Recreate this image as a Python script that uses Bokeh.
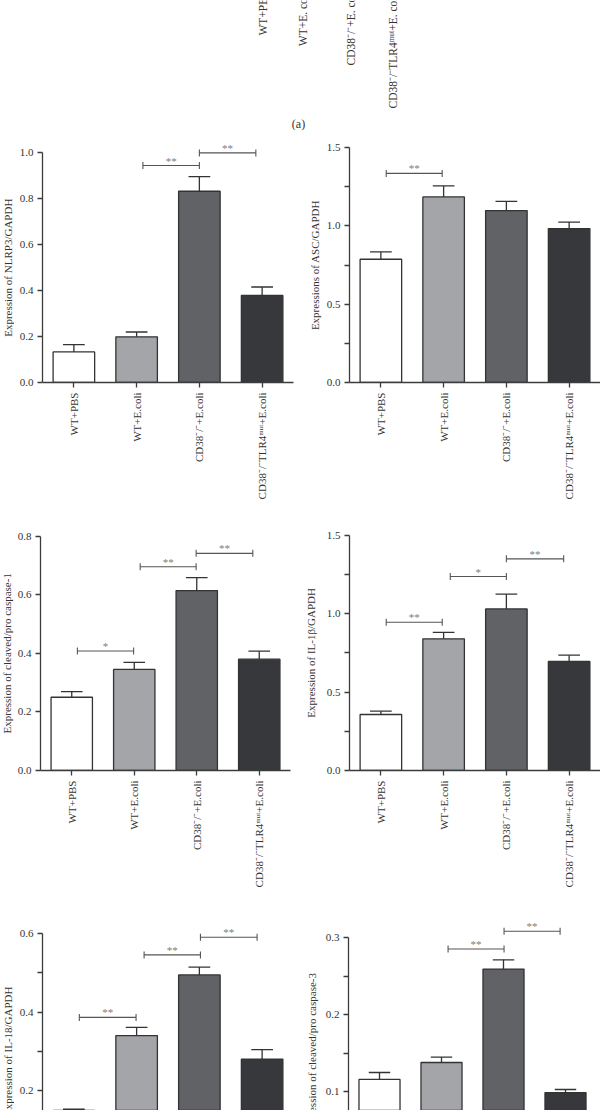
import numpy as np
from bokeh.plotting import figure
from bokeh.layouts import column, row
from bokeh.models import Range1d, FixedTicker, NumeralTickFormatter, Label, ColumnDataSource
from bokeh.core.properties import value
from bokeh.embed import file_html
from bokeh.resources import INLINE

# ---------------- data ----------------
groups = ["WT+PBS", "WT+E.coli", "CD38\u207b/\u207b+E.coli",
          "CD38\u207b/\u207bTLR4\u1d50\u1d58\u1d57+E.coli"]
blot_labels = ["WT+PBS", "WT+E. coli", "CD38\u207b/\u207b+E. coli",
               "CD38\u207b/\u207bTLR4\u1d50\u1d58\u1d57+E. coli"]

nlrp3_mean = [0.133, 0.199, 0.833, 0.379]
nlrp3_sem = [0.032, 0.021, 0.064, 0.037]
asc_mean = [0.787, 1.185, 1.098, 0.983]
asc_sem = [0.047, 0.070, 0.058, 0.041]
casp1_mean = [0.250, 0.345, 0.614, 0.380]
casp1_sem = [0.019, 0.024, 0.044, 0.027]
il1b_mean = [0.357, 0.839, 1.030, 0.695]
il1b_sem = [0.021, 0.041, 0.094, 0.040]
il18_mean = [0.145, 0.340, 0.495, 0.280]
il18_sem = [0.007, 0.021, 0.020, 0.024]
casp3_mean = [0.116, 0.138, 0.259, 0.099]
casp3_sem = [0.009, 0.007, 0.012, 0.004]

# significance brackets: (x start, x end, height, mark)
nlrp3_sig = [(1.10, 2.00, 0.945, "**"), (2.00, 2.90, 1.00, "**")]
asc_sig = [(0.085, 0.977, 1.335, "**")]
casp1_sig = [(0.09, 0.99, 0.408, "*"), (1.095, 1.99, 0.695, "**"), (1.99, 2.897, 0.741, "**")]
il1b_sig = [(0.085, 0.978, 0.945, "**"), (1.106, 2.0, 1.236, "*"), (2.0, 2.913, 1.349, "**")]
il18_sig = [(0.087, 0.991, 0.3865, "**"), (1.119, 2.017, 0.546, "**"), (2.017, 2.92, 0.591, "**")]
casp3_sig = [(1.106, 2.009, 0.285, "**"), (2.009, 2.913, 0.308, "**")]

# ---------------- style ----------------
SERIF = "Liberation Serif"
BAR_COLORS = ["#ffffff", "#a3a5a8", "#616265", "#37383b"]
EDGE = "#333333"
AXIS = "#3c3c3c"
TXT = "#333333"


def style_axis(ax):
    ax.axis_line_color = AXIS
    ax.axis_line_width = 1.3
    ax.major_tick_line_color = AXIS
    ax.major_tick_line_width = 1.3
    ax.minor_tick_line_color = AXIS
    ax.minor_tick_line_width = 1.3
    ax.major_tick_out = 5
    ax.major_tick_in = 0
    ax.minor_tick_out = 5
    ax.minor_tick_in = 0
    ax.major_label_text_font = SERIF
    ax.major_label_text_font_size = "11px"
    ax.major_label_text_color = TXT


def ylabel_strip(text, yr, axis_top, w, h, bottom, cx):
    """narrow figure holding the rotated y-axis title, aligned with its panel"""
    q = figure(width=w, height=h, x_range=Range1d(0, w), y_range=Range1d(*yr),
               output_backend="svg", toolbar_location=None, min_border_left=0,
               min_border_right=0, min_border_top=0, min_border_bottom=bottom,
               x_axis_location=None, y_axis_location=None)
    q.xgrid.visible = False
    q.ygrid.visible = False
    q.outline_line_color = None
    q.text(x=[cx], y=[axis_top / 2.0], text=[text], angle=np.pi / 2, text_align="center",
           text_baseline="middle", text_font=value(SERIF), text_font_size="11px",
           text_color=TXT)
    return q


def panel(means, sems, sig, yr, axis_top, major, minor, w, h, left, right,
          bottom, caption=None, show_x=True):
    p = figure(width=w, height=h, x_range=Range1d(-0.5, 3.5), y_range=Range1d(*yr),
               output_backend="svg", toolbar_location=None,
               min_border_left=left, min_border_right=right, min_border_top=0,
               min_border_bottom=bottom,
               x_axis_location="below" if show_x else None)
    p.xgrid.visible = False
    p.ygrid.visible = False
    p.outline_line_color = None

    sx = (w - left - right) / 4.0
    sy = (h - bottom) / (yr[1] - yr[0])

    x = np.arange(len(groups))
    m = np.array(means, dtype=float)
    e = np.array(sems, dtype=float)
    src = ColumnDataSource(dict(x=x, top=m, tip=m + e, c=BAR_COLORS,
                                cl=x - 0.173, cr=x + 0.173))
    p.vbar(x="x", top="top", bottom=0, width=0.662, fill_color="c", line_color=EDGE,
           line_width=1.3, source=src)
    p.segment(x0="x", y0="top", x1="x", y1="tip", line_color=EDGE, line_width=1.3, source=src)
    p.segment(x0="cl", y0="tip", x1="cr", y1="tip", line_color=EDGE, line_width=1.3, source=src)

    bx0 = [s[0] for s in sig]
    bx1 = [s[1] for s in sig]
    by = [s[2] for s in sig]
    bt = [s[3] for s in sig]
    p.segment(x0=bx0, y0=by, x1=bx1, y1=by, line_color="#555555", line_width=1.1)
    p.scatter(x=bx0 + bx1, y=by + by, marker="dash", angle=np.pi / 2, size=7,
              line_color="#555555", line_width=1.1)
    p.text(x=[(a + b) / 2 for a, b in zip(bx0, bx1)], y=by, text=bt, text_align="center",
           text_baseline="middle", y_offset=-5, text_font=value(SERIF),
           text_font_size="11px", text_color="#7c7c7c")

    ya = p.yaxis[0]
    style_axis(ya)
    ya.bounds = (max(0.0, yr[0]), axis_top)
    ya.ticker = FixedTicker(ticks=major, minor_ticks=minor)
    ya.formatter = NumeralTickFormatter(format="0.0")
    ya.major_label_standoff = 4

    if show_x:
        xa = p.xaxis[0]
        style_axis(xa)
        xa.bounds = (-0.5, 3.5)
        xa.ticker = FixedTicker(ticks=[int(i) for i in x])
        xa.major_label_overrides = {int(i): g for i, g in zip(x, groups)}
        xa.major_label_orientation = np.pi / 2
        xa.major_label_standoff = 5
        xa.minor_tick_line_color = None

    if caption:
        p.add_layout(Label(x=-0.5 + 103 / sx, y=yr[0] - 131 / sy, text=caption,
                           text_align="center", text_baseline="middle",
                           text_font=SERIF, text_font_size="12px", text_color=TXT))
    return p


# ---------------- (a) label strip ----------------
pa = figure(width=600, height=130, x_range=Range1d(0, 600), y_range=Range1d(130, 0),
            output_backend="svg", toolbar_location=None, min_border=0,
            x_axis_location=None, y_axis_location=None)
pa.xgrid.visible = False
pa.ygrid.visible = False
pa.outline_line_color = None
lane_x = [262, 302, 350, 392]
lane_y = [35, 45.7, 65, 108]
pa.text(x=lane_x, y=lane_y, text=blot_labels, angle=np.pi / 2, text_align="left",
        text_baseline="middle", text_font=value(SERIF), text_font_size="11.5px",
        text_color=TXT)
pa.add_layout(Label(x=298, y=123, text="(a)", text_align="center", text_baseline="middle",
                    text_font=SERIF, text_font_size="12px", text_color=TXT))

# ---------------- panels ----------------
LW, RW = 14, 22          # widths of the y-title strips (left / right column)

yr_b = (0, 1.0976)
pb = panel(nlrp3_mean, nlrp3_sem, nlrp3_sig, yr_b, 1.0, [0, 0.2, 0.4, 0.6, 0.8, 1.0], [],
           300 - LW, 395, 28, 7, 143, "(b)")
lb = ylabel_strip("Expression of NLRP3/GAPDH", yr_b, 1.0, LW, 395, 143, 7)

yr_c = (0, 1.609)
pc = panel(asc_mean, asc_sem, asc_sig, yr_c, 1.5, [0, 0.5, 1.0, 1.5], [0.25, 0.75, 1.25],
           300 - RW, 395, 27, 0, 143, "(c)")
lc = ylabel_strip("Expressions of ASC/GAPDH", yr_c, 1.5, RW, 395, 143, 14)

yr_d = (0, 0.836)
pd = panel(casp1_mean, casp1_sem, casp1_sig, yr_d, 0.8, [0, 0.2, 0.4, 0.6, 0.8], [],
           300 - LW, 387, 25, 10, 142, "(d)")
ld = ylabel_strip("Expression of cleaved/pro caspase-1", yr_d, 0.8, LW, 387, 142, 6.5)

yr_e = (0, 1.5615)
pe = panel(il1b_mean, il1b_sem, il1b_sig, yr_e, 1.5, [0, 0.5, 1.0, 1.5], [0.25, 0.75, 1.25],
           300 - RW, 387, 27, 0, 142, "(e)")
le = ylabel_strip("Expression of IL-1\u03b2/GAPDH", yr_e, 1.5, RW, 387, 142, 10)

yr_f = (0.1488, 0.6543)
pf = panel(il18_mean, il18_sem, il18_sig, yr_f, 0.6, [0.2, 0.4, 0.6], [0.3, 0.5],
           300 - LW, 198, 28, 7, 0, None, show_x=False)
lf = ylabel_strip("Expression of IL-18/GAPDH", yr_f, 0.6, LW, 198, 0, 7)

yr_g = (0.0758, 0.3323)
pg = panel(casp3_mean, casp3_sem, casp3_sig, yr_g, 0.3, [0.1, 0.2, 0.3], [0.15, 0.25],
           300 - RW, 198, 23, 4, 0, None, show_x=False)
lg = ylabel_strip("Expression of cleaved/pro caspase-3", yr_g, 0.3, RW, 198, 0, 11)

layout = column(pa, row(lb, pb, lc, pc), row(ld, pd, le, pe), row(lf, pf, lg, pg))

open("out.html", "w").write(file_html(layout, INLINE))
